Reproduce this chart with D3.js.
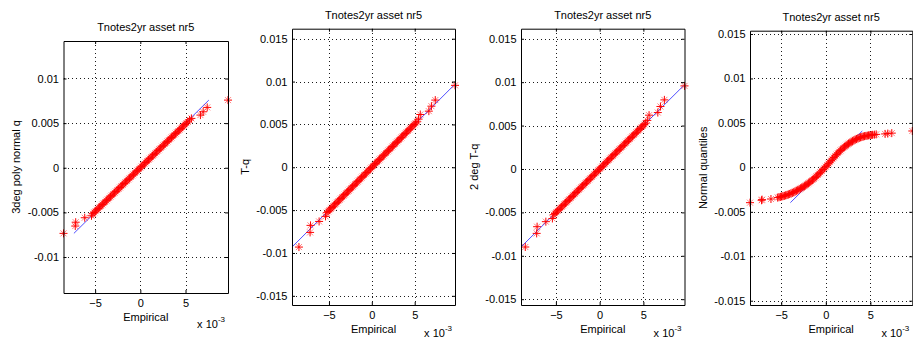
<!DOCTYPE html>
<html>
<head>
<meta charset="utf-8">
<script src="https://cdn.jsdelivr.net/npm/d3@7"></script>
<style>
  body { margin: 0; background: #fff; }
  svg { display: block; }
  text { font-family: "Liberation Sans", Arial, Helvetica, sans-serif; font-size: 11px; fill: #000; }
</style>
</head>
<body>
<svg id="chart" width="913" height="340"></svg>
<script>
// Sorted empirical returns, in units of 1e-3
const empirical = [
  -8.50, -7.20, -7.15, -6.15, -5.40,
  -5.25, -5.10, -4.95, -4.80, -4.65, -4.50, -4.35, -4.20, -4.05, -3.90,
  -3.75, -3.60, -3.45, -3.30, -3.15, -3.00, -2.85, -2.70, -2.55, -2.40,
  -2.25, -2.10, -1.95, -1.80, -1.65, -1.50, -1.35, -1.20, -1.05, -0.90,
  -0.75, -0.60, -0.45, -0.30, -0.15, 0.00, 0.15, 0.30, 0.45, 0.60,
  0.75, 0.90, 1.05, 1.20, 1.35, 1.50, 1.65, 1.80, 1.95, 2.10,
  2.25, 2.40, 2.55, 2.70, 2.85, 3.00, 3.15, 3.30, 3.45, 3.60,
  3.75, 3.90, 4.05, 4.20, 4.35, 4.50, 4.65, 4.80, 4.95, 5.10,
  5.25,
  5.45, 5.65, 6.65, 6.95, 7.40, 9.70
];

// Model quantiles matched to each empirical value (units of 1e-3)
const polyNormalQ = [
  -7.35, -6.53, -6.10, -5.60, -5.38,
  -5.15, -5.00, -4.86, -4.71, -4.56, -4.41, -4.27, -4.12, -3.97, -3.83,
  -3.68, -3.53, -3.38, -3.24, -3.09, -2.94, -2.80, -2.65, -2.50, -2.36,
  -2.21, -2.06, -1.91, -1.77, -1.62, -1.47, -1.33, -1.18, -1.03, -0.89,
  -0.74, -0.59, -0.44, -0.30, -0.15, 0.00, 0.15, 0.30, 0.44, 0.59,
  0.74, 0.89, 1.03, 1.18, 1.33, 1.47, 1.62, 1.77, 1.92, 2.07,
  2.21, 2.36, 2.51, 2.66, 2.80, 2.95, 3.10, 3.25, 3.39, 3.54,
  3.68, 3.83, 3.98, 4.12, 4.27, 4.41, 4.56, 4.70, 4.85, 5.00,
  5.14,
  5.36, 5.53, 5.90, 6.27, 6.76, 7.58
];

const tQ = [
  -9.31, -7.60, -6.78, -6.32, -5.73,
  -5.30, -5.15, -5.00, -4.85, -4.70, -4.55, -4.39, -4.24, -4.09, -3.94,
  -3.79, -3.64, -3.48, -3.33, -3.18, -3.03, -2.88, -2.73, -2.58, -2.42,
  -2.27, -2.12, -1.97, -1.82, -1.67, -1.52, -1.36, -1.21, -1.06, -0.91,
  -0.76, -0.61, -0.45, -0.30, -0.15, 0.00, 0.15, 0.30, 0.45, 0.61,
  0.76, 0.91, 1.06, 1.21, 1.36, 1.52, 1.67, 1.82, 1.97, 2.12,
  2.27, 2.42, 2.58, 2.73, 2.88, 3.03, 3.18, 3.33, 3.48, 3.64,
  3.79, 3.94, 4.09, 4.24, 4.39, 4.55, 4.70, 4.85, 5.00, 5.15,
  5.30,
  5.62, 6.16, 6.55, 7.13, 7.84, 9.56
];

const twoDegTQ = [
  -8.99, -7.42, -6.65, -6.07, -5.70,
  -5.27, -5.12, -4.97, -4.82, -4.67, -4.52, -4.37, -4.22, -4.07, -3.92,
  -3.77, -3.62, -3.47, -3.32, -3.17, -3.02, -2.87, -2.71, -2.56, -2.41,
  -2.26, -2.11, -1.96, -1.81, -1.66, -1.51, -1.36, -1.21, -1.06, -0.91,
  -0.76, -0.60, -0.45, -0.30, -0.15, 0.00, 0.15, 0.30, 0.45, 0.60,
  0.76, 0.91, 1.06, 1.21, 1.36, 1.51, 1.66, 1.81, 1.96, 2.11,
  2.26, 2.41, 2.56, 2.71, 2.87, 3.02, 3.17, 3.32, 3.47, 3.62,
  3.77, 3.92, 4.07, 4.22, 4.37, 4.52, 4.67, 4.82, 4.97, 5.12,
  5.27,
  5.60, 6.20, 6.50, 7.20, 7.96, 9.57
];

const normalQ = [
  -3.97, -3.70, -3.63, -3.56, -3.40,
  -3.36, -3.32, -3.28, -3.24, -3.20, -3.15, -3.10, -3.05, -2.99, -2.93,
  -2.87, -2.80, -2.72, -2.64, -2.56, -2.48, -2.39, -2.30, -2.21, -2.11,
  -2.01, -1.90, -1.79, -1.67, -1.55, -1.42, -1.29, -1.15, -1.01, -0.86,
  -0.71, -0.56, -0.40, -0.24, -0.08, 0.08, 0.25, 0.42, 0.59, 0.76,
  0.93, 1.10, 1.27, 1.44, 1.60, 1.75, 1.90, 2.04, 2.18, 2.31,
  2.43, 2.55, 2.66, 2.76, 2.86, 2.95, 3.04, 3.12, 3.19, 3.26,
  3.32, 3.38, 3.43, 3.47, 3.51, 3.54, 3.57, 3.60, 3.62, 3.64,
  3.66,
  3.68, 3.71, 3.76, 3.80, 3.85, 4.09
];

const titles = ["Tnotes2yr asset nr5", "Tnotes2yr asset nr5", "Tnotes2yr asset nr5", "Tnotes2yr asset nr5"];
const yLabels = ["3deg poly normal q", "T-q", "2 deg T-q", "Normal quantiles"];
const xLabel = "Empirical";
const xTicks = [-5, 0, 5];                       // units of 1e-3
const yTicksNarrow = [-0.01, -0.005, 0, 0.005, 0.01];
const yTicksWide = [-0.015, -0.01, -0.005, 0, 0.005, 0.01, 0.015];

const unit = 1e-3;

// Plot boxes and y limits of the four subplots
const panels = [
  { q: polyNormalQ, title: titles[0], yLabel: yLabels[0], yTicks: yTicksNarrow,
    yLim: [-0.01403, 0.01420], box: { x0: 63.5, x1: 228, y0: 41, y1: 293 } },
  { q: tQ, title: titles[1], yLabel: yLabels[1], yTicks: yTicksWide,
    yLim: [-0.01607, 0.01617], box: { x0: 292, x1: 455, y0: 28.7, y1: 305 } },
  { q: twoDegTQ, title: titles[2], yLabel: yLabels[2], yTicks: yTicksWide,
    yLim: [-0.01567, 0.01616], box: { x0: 521, x1: 684.5, y0: 28.7, y1: 305 } },
  { q: normalQ, title: titles[3], yLabel: yLabels[3], yTicks: yTicksWide,
    yLim: [-0.01548, 0.01537], box: { x0: 750, x1: 912.3, y0: 30.7, y1: 305 } }
];

const svg = d3.select("#chart");

// '*' marker: bold plus with softer diagonals
const plusPath = "M-4,0H4M0,-4V4";
const crossPath = "M-3,-3L3,3M-3,3L3,-3";

panels.forEach(p => {
  const { x0, x1, y0, y1 } = p.box;
  const pts = empirical.map((e, i) => ({ x: e * unit, y: p.q[i] * unit }));
  const qExt = d3.extent(p.q);
  const xMin = Math.min(d3.min(empirical), qExt[0]) * unit;
  const xMax = Math.max(d3.max(empirical), qExt[1]) * unit;

  const x = d3.scaleLinear().domain([xMin, xMax]).range([x0, x1]);
  const y = d3.scaleLinear().domain(p.yLim).range([y1, y0]);

  const g = svg.append("g");

  // dotted grid
  const grid = g.append("g").attr("stroke", "#1a1a1a").attr("stroke-width", 1)
    .attr("stroke-dasharray", "1,3").attr("shape-rendering", "crispEdges");
  grid.selectAll("line.v").data(xTicks).join("line")
    .attr("x1", d => Math.round(x(d * unit)) + 0.5).attr("x2", d => Math.round(x(d * unit)) + 0.5)
    .attr("y1", y0).attr("y2", y1);
  grid.selectAll("line.h").data(p.yTicks).join("line")
    .attr("y1", d => Math.round(y(d)) + 0.5).attr("y2", d => Math.round(y(d)) + 0.5)
    .attr("x1", x0).attr("x2", x1);

  // reference line y = x over the range of the model quantiles
  g.append("line")
    .attr("x1", x(qExt[0] * unit)).attr("y1", y(qExt[0] * unit))
    .attr("x2", x(qExt[1] * unit)).attr("y2", y(qExt[1] * unit))
    .attr("stroke", "#3a3aff").attr("stroke-width", 0.9);

  // markers
  const mk = g.append("g").attr("fill", "none").attr("stroke", "#ff0000");
  const sel = mk.selectAll("g").data(pts).join("g")
    .attr("transform", d => `translate(${x(d.x)},${y(d.y)})`);
  sel.append("path").attr("d", crossPath).attr("stroke-opacity", 0.5).attr("stroke-width", 1);
  sel.append("path").attr("d", plusPath).attr("stroke-width", 1);

  // axes (ticks drawn inward on all four sides)
  const fmtX = v => d3.format("d")(Math.round(v / unit));
  const fmtY = v => (v === 0 ? "0" : String(+v.toFixed(3)));
  const axB = d3.axisBottom(x).tickValues(xTicks.map(v => v * unit)).tickFormat(fmtX)
    .tickSizeInner(-3).tickSizeOuter(0).tickPadding(6.5);
  const axT = d3.axisTop(x).tickValues(xTicks.map(v => v * unit)).tickFormat("")
    .tickSizeInner(-3).tickSizeOuter(0);
  const axL = d3.axisLeft(y).tickValues(p.yTicks).tickFormat(fmtY)
    .tickSizeInner(-3).tickSizeOuter(0).tickPadding(4.5);
  const axR = d3.axisRight(y).tickValues(p.yTicks).tickFormat("")
    .tickSizeInner(-3).tickSizeOuter(0);

  const styleAxis = a => {
    a.selectAll("path.domain").attr("stroke", "#000").attr("stroke-width", 1);
    a.selectAll(".tick line").attr("stroke", "#000");
    a.selectAll("text").attr("fill", "#111").style("font-size", "11px")
      .style("font-family", '"Liberation Sans", Arial, sans-serif');
  };
  styleAxis(g.append("g").attr("transform", `translate(0,${y1})`).call(axB));
  styleAxis(g.append("g").attr("transform", `translate(0,${y0})`).call(axT));
  styleAxis(g.append("g").attr("transform", `translate(${x0},0)`).call(axL));
  styleAxis(g.append("g").attr("transform", `translate(${x1},0)`).call(axR));

  const cx = (x0 + x1) / 2;
  // title
  g.append("text").attr("x", cx).attr("y", y0 - 10).attr("text-anchor", "middle").text(p.title);
  // x label
  g.append("text").attr("x", cx).attr("y", y1 + 28).attr("text-anchor", "middle").text(xLabel);
  // exponent label
  const ex = g.append("text").attr("x", x1 - 3).attr("y", Math.min(y1 + 35, 336.5)).attr("text-anchor", "end");
  ex.append("tspan").text("x 10");
  ex.append("tspan").attr("dy", -6).style("font-size", "8px").text("-3");
  // y label
  g.append("text")
    .attr("transform", `translate(${x0 - 47},${(y0 + y1) / 2}) rotate(-90)`)
    .attr("dy", "0.35em").attr("text-anchor", "middle").text(p.yLabel);
});
</script>
</body>
</html>
